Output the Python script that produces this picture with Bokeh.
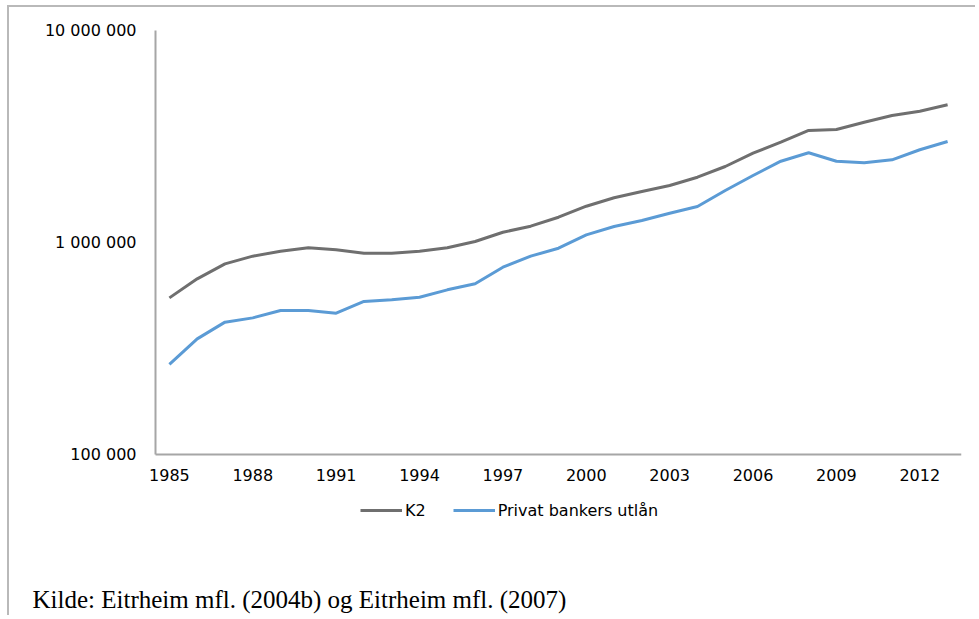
from bokeh.plotting import figure
from bokeh.models import (Range1d, FixedTicker, Legend, LegendItem, Label)
from bokeh.embed import file_html
from bokeh.resources import INLINE

years = list(range(1985, 2014))
k2 = [548000, 674000, 793000, 862000, 910000, 944000, 924000, 890000, 890000, 910000,
      944000, 1011000, 1118000, 1194000, 1316000, 1483000, 1625000, 1740000, 1857000, 2032000,
      2283000, 2638000, 2973000, 3376000, 3412000, 3694000, 3972000, 4162000, 4462000]
utlan = [266000, 351000, 421000, 441000, 478000, 478000, 464000, 527000, 537000, 552000,
         598000, 639000, 765000, 862000, 940000, 1087000, 1190000, 1270000, 1375000, 1478000,
         1759000, 2070000, 2418000, 2650000, 2418000, 2377000, 2455000, 2738000, 2995000]
series_names = ["K2", "Privat bankers utlån"]
x_ticks = [1985, 1988, 1991, 1994, 1997, 2000, 2003, 2006, 2009, 2012]
y_ticks = [100000, 1000000, 10000000]
y_tick_labels = ["100 000", "1 000 000", "10 000 000"]
source_text = "Kilde: Eitrheim mfl. (2004b) og Eitrheim mfl. (2007)"

# layout (pixels): canvas, frame and axis positions
W, H = 968, 610
ML, MR, MT, MB = 11, 16, 2, 0
frame_w = W - ML - MR
frame_h = H - MT - MB
axis_left_px = 135          # y-axis position inside frame (from frame left)
axis_top_px = 21            # 1e7 position (from frame top)
axis_h_px = 424             # height from 1e5 to 1e7
x0, x1 = years[0] - 0.5, years[-1] + 0.5
px_per_year = (frame_w - axis_left_px) / (x1 - x0)
x_start = x0 - axis_left_px / px_per_year
px_per_decade = axis_h_px / 2
y_top = y_ticks[-1] * 10 ** (axis_top_px / px_per_decade)
y_bottom = y_ticks[0] / 10 ** ((frame_h - axis_top_px - axis_h_px) / px_per_decade)

p = figure(width=W, height=H, y_axis_type="log",
           x_range=Range1d(x_start, x1), y_range=Range1d(y_bottom, y_top),
           output_backend="svg", toolbar_location=None,
           min_border_left=ML, min_border_right=MR, min_border_top=MT,
           min_border_bottom=MB)
p.styles = {"border-top": "2px solid #b9b9b9", "border-left": "2px solid #b9b9b9",
            "margin-left": "7px", "margin-top": "5px"}
p.outline_line_color = None
p.grid.grid_line_color = None
p.background_fill_color = "white"
p.border_fill_color = "white"

for ax in (p.xaxis[0], p.yaxis[0]):
    ax.axis_line_color = "#a6a6a6"
    ax.axis_line_width = 2
    ax.major_tick_line_color = None
    ax.minor_tick_line_color = None
    ax.major_label_text_font = "DejaVu Sans"
    ax.major_label_text_font_size = "16px"
    ax.major_label_text_color = "black"

p.xaxis.ticker = FixedTicker(ticks=x_ticks)
p.xaxis.fixed_location = y_ticks[0]
p.xaxis.bounds = (x0, x1)
p.xaxis.major_label_standoff = 8
p.yaxis.ticker = FixedTicker(ticks=y_ticks, minor_ticks=[])
p.yaxis.major_label_overrides = {t: l for t, l in zip(y_ticks, y_tick_labels)}
p.yaxis.fixed_location = x0
p.yaxis.bounds = (y_ticks[0], y_ticks[-1])
p.yaxis.major_label_standoff = 13

r1 = p.line(years, k2, line_color="#6f6f6f", line_width=3)
r2 = p.line(years, utlan, line_color="#5b9bd5", line_width=3)

legend = Legend(items=[LegendItem(label=series_names[0], renderers=[r1]),
                       LegendItem(label=series_names[1], renderers=[r2])],
                orientation="horizontal", location=(340, 97),
                label_text_font="DejaVu Sans", label_text_font_size="16px",
                label_text_color="black", glyph_width=42, label_standoff=3,
                spacing=27, padding=5, margin=0, border_line_color=None,
                background_fill_alpha=0)
p.add_layout(legend)

src = Label(x=12, y=18, x_units="screen", y_units="screen", text=source_text,
            text_font="Liberation Serif", text_font_size="25px",
            text_color="black", text_baseline="alphabetic")
p.add_layout(src)

open("out.html", "w").write(file_html(p, INLINE))
